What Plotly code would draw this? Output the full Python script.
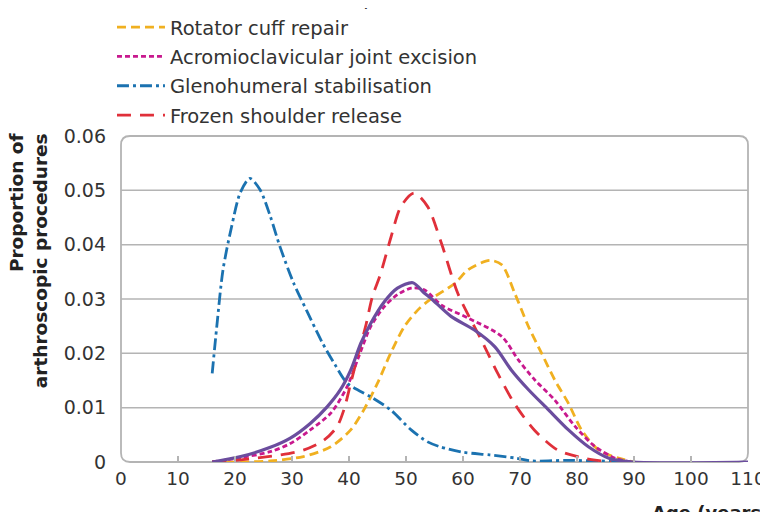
import plotly.graph_objects as go

# ages (years) and proportion of procedures
sad_age = [16, 21, 26.2, 29.7, 33.2, 36.2, 38.5, 40.3, 42.1, 43.8, 46.2, 48.5, 51.2, 53.2,
           54.4, 57.9, 62, 65.6, 68.5, 71.5, 75, 78.5, 82, 85.6, 90, 110]
sad_val = [0, 0.0010, 0.0027, 0.0044, 0.0071, 0.0102, 0.0133, 0.0169, 0.0219, 0.0255, 0.0295,
           0.032, 0.033, 0.0311, 0.0301, 0.0268, 0.0243, 0.0212, 0.0169, 0.0133, 0.0096,
           0.0059, 0.0028, 0.0007, 0, 0]

rcr_age = [16, 21, 26.2, 32, 36.8, 40.3, 42.6, 45, 47.3, 49.7, 52.1, 54.1, 58.6, 60.9, 64.7,
           66.8, 69.1, 71.5, 73.8, 76.1, 78.5, 80.8, 83.8, 87.3, 90]
rcr_val = [0, 0, 0.0002, 0.001, 0.0028, 0.0059, 0.0096, 0.0145, 0.020, 0.0249, 0.028, 0.0298,
           0.0329, 0.0354, 0.0371, 0.0363, 0.031, 0.0249, 0.020, 0.0151, 0.0108, 0.0059,
           0.0022, 0.0007, 0]

acj_age = [16, 21, 26.2, 29.7, 33.2, 36.8, 39.7, 41.5, 43.8, 46.2, 48.5, 50.9, 53.2, 56.3,
           60.9, 66.8, 69.7, 72.6, 76.1, 79.7, 83.2, 86.7, 89.5]
acj_val = [0, 0.0008, 0.0019, 0.0034, 0.0059, 0.009, 0.0139, 0.0188, 0.0249, 0.0286, 0.0308,
           0.032, 0.0317, 0.0288, 0.0265, 0.0231, 0.0188, 0.0151, 0.0114, 0.0065, 0.0028,
           0.0007, 0]

ghs_age = [16, 16.8, 17.9, 19.4, 20.9, 22.6, 24.4, 26.2, 27.9, 30.3, 32.6, 35.3, 37.5, 39.7,
           43.8, 47.3, 50.9, 53.8, 56, 60, 64.7, 69.4, 72, 78, 84, 88]
ghs_val = [0.0163, 0.0249, 0.0354, 0.0433, 0.0495, 0.0522, 0.0501, 0.0452, 0.0396, 0.0329,
           0.0278, 0.022, 0.018, 0.0145, 0.012, 0.0096, 0.0059, 0.0037, 0.0028, 0.0018,
           0.0013, 0.0007, 0.0002, 0.0003, 0.0002, 0]

fsr_age = [16, 21, 27.9, 32, 35.6, 37.9, 39.1, 40.3, 41.5, 42.9, 44.1, 45.5, 47.4, 49.1, 51.4,
           53.8, 56.2, 59.1, 62, 63.2, 66.1, 69, 72.5, 76.6, 81.3, 86]
fsr_val = [0, 0.0004, 0.0013, 0.0022, 0.004, 0.0065, 0.0096, 0.0145, 0.0194, 0.0249, 0.0304,
           0.0345, 0.0415, 0.047, 0.0495, 0.047, 0.0403, 0.031, 0.0249, 0.0225, 0.0163,
           0.0108, 0.0059, 0.0022, 0.0007, 0]

x_ticks = [0, 10, 20, 30, 40, 50, 60, 70, 80, 90, 100, 110]
y_ticks = [0, 0.01, 0.02, 0.03, 0.04, 0.05, 0.06]
y_labels = ["0", "0.01", "0.02", "0.03", "0.04", "0.05", "0.06"]

FONT = "DejaVu Sans"
GRID = "#b4b4b4"

# (name, x, y, colour, dash, width, legend rank); drawn in this order
series = [
    ("Rotator cuff repair", rcr_age, rcr_val, "#f0b020", "9px,5px", 2.8, 2),
    ("Acromioclavicular joint excision", acj_age, acj_val, "#c8198e", "5px,3px", 2.8, 3),
    ("Glenohumeral stabilisation", ghs_age, ghs_val, "#1b72b0", "12px,4px,3px,4px", 2.8, 4),
    ("Frozen shoulder release", fsr_age, fsr_val, "#e0303a", "14px,9px", 2.8, 5),
    ("Subacromial decompression", sad_age, sad_val, "#6b4d9e", "solid", 3.2, 1),
]

fig = go.Figure()
for name, xs, ys, col, dash, w, rank in series:
    fig.add_trace(go.Scatter(
        x=xs, y=ys, name=name, mode="lines",
        line=dict(color=col, dash=dash, width=w, shape="spline", smoothing=0.8),
        legendrank=rank, legendgroup=name,
    ))

# horizontal gridlines inside the box
shapes = []
for v in y_ticks[1:-1]:
    shapes.append(dict(type="line", xref="paper", x0=0, x1=1, yref="y", y0=v, y1=v,
                       line=dict(color=GRID, width=1.5), layer="below"))

# rounded plot frame
rx, ry = 9 / 627, 9 / 326
path = (f"M {rx},0 L {1-rx},0 Q 1,0 1,{ry} L 1,{1-ry} Q 1,1 {1-rx},1 "
        f"L {rx},1 Q 0,1 0,{1-ry} L 0,{ry} Q 0,0 {rx},0 Z")
shapes.append(dict(type="path", xref="paper", yref="paper", path=path,
                   line=dict(color=GRID, width=1.8), layer="below"))

# the page body adds an 8px offset, so margins are shifted to compensate
fig.update_layout(
    width=768, height=512,
    margin=dict(l=113, r=28, t=128, b=58, autoexpand=False),
    paper_bgcolor="white", plot_bgcolor="white",
    font=dict(family=FONT, size=19, color="#333333"),
    shapes=shapes,
    showlegend=True,
    legend=dict(
        x=-0.0144, y=1.483, xanchor="left", yanchor="top",
        font=dict(family=FONT, size=19.5, color="#333333"),
        bgcolor="rgba(0,0,0,0)", tracegroupgap=1, itemwidth=48,
    ),
    xaxis=dict(
        range=[0, 110], tickvals=x_ticks, ticks="inside", ticklen=6,
        tickcolor=GRID, tickwidth=1.5, showgrid=False, zeroline=False, showline=False,
        tickfont=dict(size=18.5), tickangle=0, ticklabelstandoff=3,
    ),
    yaxis=dict(
        range=[0, 0.06], tickvals=y_ticks, ticktext=y_labels, ticks="",
        showgrid=False, zeroline=False, showline=False, ticklabelstandoff=14,
        tickfont=dict(size=19),
    ),
    annotations=[
        dict(text="<b>Proportion of<br>arthroscopic procedures</b>", textangle=-90,
             xref="paper", yref="paper", x=-0.1462, y=0.62, xanchor="center", yanchor="middle",
             align="right", showarrow=False, font=dict(family=FONT, size=18.5, color="#222222")),
        dict(text="<b>Age (years)</b>", xref="paper", yref="paper", x=0.8437, y=-0.118,
             xanchor="left", yanchor="top", showarrow=False,
             font=dict(family=FONT, size=18, color="#222222")),
    ],
)

fig.write_html("out.html")
